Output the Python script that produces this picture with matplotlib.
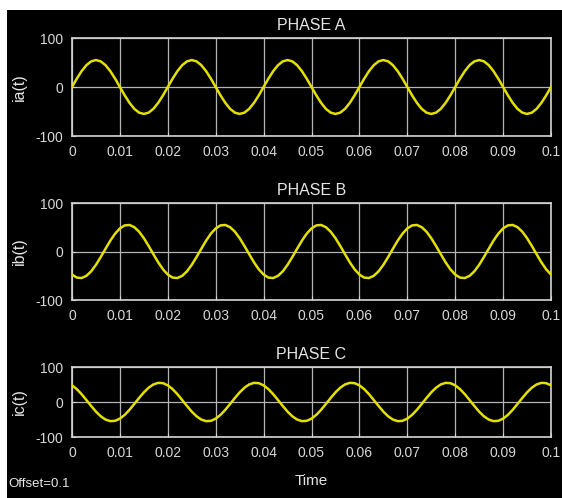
"""
三相电流示波器截图复刻：PHASE A / B / C 三个子图，黑底黄线，输出 out.png
"""
import matplotlib
matplotlib.use("Agg")
import matplotlib.pyplot as plt
from matplotlib.patches import Rectangle

plt.rcParams["font.family"] = ["Liberation Sans", "DejaVu Sans"]
plt.rcParams["axes.unicode_minus"] = False  # 截图里用的是普通连字符 "-100"

# 采样时间：0 ~ 0.1 s，每 1 ms 一个点
time_s = [k / 1000 for k in range(101)]

# 从截图读出的各相电流（幅值约 55，50 Hz）
ia = [
    0, 17.0, 32.3, 44.5, 52.3, 55, 52.3, 44.5, 32.3, 17.0,
    0, -17.0, -32.3, -44.5, -52.3, -55, -52.3, -44.5, -32.3, -17.0,
    0, 17.0, 32.3, 44.5, 52.3, 55, 52.3, 44.5, 32.3, 17.0,
    0, -17.0, -32.3, -44.5, -52.3, -55, -52.3, -44.5, -32.3, -17.0,
    0, 17.0, 32.3, 44.5, 52.3, 55, 52.3, 44.5, 32.3, 17.0,
    0, -17.0, -32.3, -44.5, -52.3, -55, -52.3, -44.5, -32.3, -17.0,
    0, 17.0, 32.3, 44.5, 52.3, 55, 52.3, 44.5, 32.3, 17.0,
    0, -17.0, -32.3, -44.5, -52.3, -55, -52.3, -44.5, -32.3, -17.0,
    0, 17.0, 32.3, 44.5, 52.3, 55, 52.3, 44.5, 32.3, 17.0,
    0, -17.0, -32.3, -44.5, -52.3, -55, -52.3, -44.5, -32.3, -17.0,
    0,
]
ib = [
    -47.6, -53.8, -54.7, -50.2, -40.9, -27.5, -11.4, 5.7, 22.4, 36.8,
    47.6, 53.8, 54.7, 50.2, 40.9, 27.5, 11.4, -5.7, -22.4, -36.8,
    -47.6, -53.8, -54.7, -50.2, -40.9, -27.5, -11.4, 5.7, 22.4, 36.8,
    47.6, 53.8, 54.7, 50.2, 40.9, 27.5, 11.4, -5.7, -22.4, -36.8,
    -47.6, -53.8, -54.7, -50.2, -40.9, -27.5, -11.4, 5.7, 22.4, 36.8,
    47.6, 53.8, 54.7, 50.2, 40.9, 27.5, 11.4, -5.7, -22.4, -36.8,
    -47.6, -53.8, -54.7, -50.2, -40.9, -27.5, -11.4, 5.7, 22.4, 36.8,
    47.6, 53.8, 54.7, 50.2, 40.9, 27.5, 11.4, -5.7, -22.4, -36.8,
    -47.6, -53.8, -54.7, -50.2, -40.9, -27.5, -11.4, 5.7, 22.4, 36.8,
    47.6, 53.8, 54.7, 50.2, 40.9, 27.5, 11.4, -5.7, -22.4, -36.8,
    -47.6,
]
ic = [
    47.6, 36.8, 22.4, 5.7, -11.4, -27.5, -40.9, -50.2, -54.7, -53.8,
    -47.6, -36.8, -22.4, -5.7, 11.4, 27.5, 40.9, 50.2, 54.7, 53.8,
    47.6, 36.8, 22.4, 5.7, -11.4, -27.5, -40.9, -50.2, -54.7, -53.8,
    -47.6, -36.8, -22.4, -5.7, 11.4, 27.5, 40.9, 50.2, 54.7, 53.8,
    47.6, 36.8, 22.4, 5.7, -11.4, -27.5, -40.9, -50.2, -54.7, -53.8,
    -47.6, -36.8, -22.4, -5.7, 11.4, 27.5, 40.9, 50.2, 54.7, 53.8,
    47.6, 36.8, 22.4, 5.7, -11.4, -27.5, -40.9, -50.2, -54.7, -53.8,
    -47.6, -36.8, -22.4, -5.7, 11.4, 27.5, 40.9, 50.2, 54.7, 53.8,
    47.6, 36.8, 22.4, 5.7, -11.4, -27.5, -40.9, -50.2, -54.7, -53.8,
    -47.6, -36.8, -22.4, -5.7, 11.4, 27.5, 40.9, 50.2, 54.7, 53.8,
    47.6,
]

titles = ["PHASE A", "PHASE B", "PHASE C"]
ylabels = ["ia(t)", "ib(t)", "ic(t)"]
x_ticks = [0, 0.01, 0.02, 0.03, 0.04, 0.05, 0.06, 0.07, 0.08, 0.09, 0.1]
x_ticklabels = ["0", "0.01", "0.02", "0.03", "0.04", "0.05", "0.06", "0.07", "0.08", "0.09", "0.1"]
y_ticks = [-100, 0, 100]

W, H = 562, 498
fig = plt.figure(figsize=(W / 100, H / 100), dpi=100, facecolor="white")
# 黑色画布（截图左侧和顶部留有白边）
fig.patches.append(Rectangle((7 / W, 0), 1 - 7 / W, 1 - 10 / H, transform=fig.transFigure,
                             facecolor="black", edgecolor="none", zorder=-10))

# 每个子图的像素位置 (left, top, right, bottom)
boxes = [(72, 38, 551, 136), (72, 203, 551, 300), (72, 367, 551, 437)]
text_c = "#e6e6e6"
tick_c = "#d8d8d8"

for (l, t, r, b), title, ylab, y in zip(boxes, titles, ylabels, [ia, ib, ic]):
    ax = fig.add_axes([l / W, 1 - b / H, (r - l) / W, (b - t) / H])
    ax.set_facecolor("black")
    ax.plot(time_s, y, color="#e3e000", lw=1.8, zorder=3)
    ax.set_xlim(0, 0.1)
    ax.set_ylim(-100, 100)
    ax.set_xticks(x_ticks)
    ax.set_xticklabels(x_ticklabels)
    ax.set_yticks(y_ticks)
    ax.grid(True, color="#b4b4b4", lw=0.9)
    for s in ax.spines.values():
        s.set_color("#d4d4d4")
        s.set_linewidth(1.2)
    ax.tick_params(direction="in", length=3, color="#d4d4d4", labelcolor=tick_c,
                   labelsize=10, pad=6.5)
    ax.set_title(title, color=text_c, fontsize=11.5, pad=5.5)
    ax.set_ylabel(ylab, color=text_c, fontsize=11.5)
    ax.yaxis.set_label_coords(-0.095, 0.5)

fig.text(311 / W, 1 - 481 / H, "Time", color=text_c, fontsize=11, ha="center", va="center")
fig.text(8 / W, 1 - 484 / H, "Offset=0.1", color=text_c, fontsize=9.5, ha="left", va="center")

fig.savefig("out.png", dpi=100, facecolor=fig.get_facecolor())
